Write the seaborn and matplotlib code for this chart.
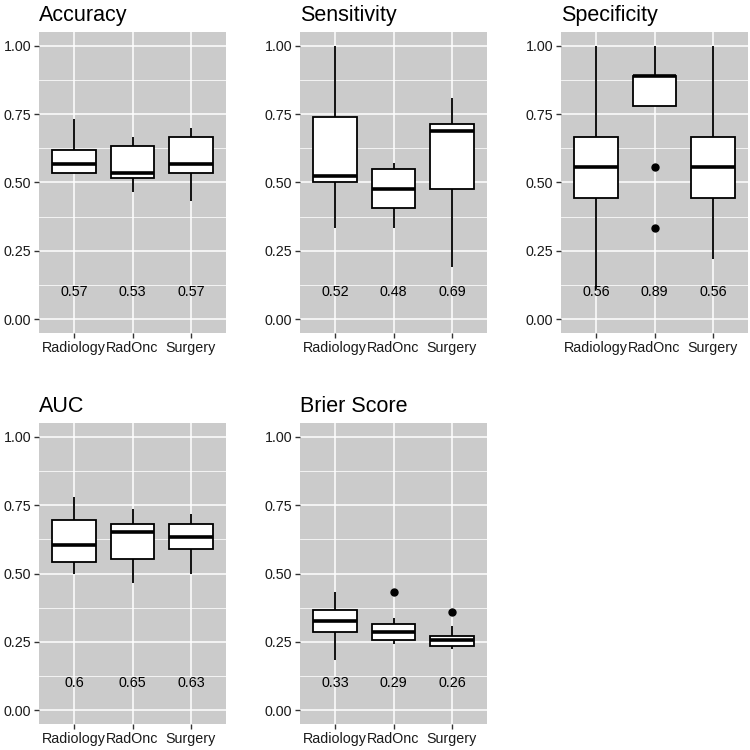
import numpy as np
import pandas as pd
import matplotlib
matplotlib.use("Agg")
import matplotlib.pyplot as plt
import seaborn as sns

groups = ["Radiology", "RadOnc", "Surgery"]
metrics = ["Accuracy", "Sensitivity", "Specificity", "AUC", "Brier Score"]

accuracy = [
    [0.533, 0.533, 0.533, 0.567, 0.567, 0.600, 0.617, 0.667, 0.733],
    [0.467, 0.500, 0.515, 0.533, 0.533, 0.600, 0.633, 0.650, 0.667],
    [0.433, 0.500, 0.533, 0.550, 0.567, 0.633, 0.667, 0.683, 0.700],
]
sensitivity = [
    [0.333, 0.450, 0.500, 0.510, 0.524, 0.667, 0.738, 0.850, 1.000],
    [0.333, 0.381, 0.405, 0.452, 0.476, 0.524, 0.548, 0.560, 0.571],
    [0.190, 0.381, 0.476, 0.600, 0.690, 0.700, 0.714, 0.762, 0.810],
]
specificity = [
    [0.111, 0.333, 0.444, 0.500, 0.556, 0.600, 0.667, 0.778, 1.000],
    [0.333, 0.556, 0.778, 0.778, 0.889, 0.889, 0.889, 1.000, 1.000],
    [0.222, 0.333, 0.444, 0.500, 0.556, 0.600, 0.667, 0.778, 1.000],
]
auc = [
    [0.500, 0.520, 0.541, 0.580, 0.604, 0.650, 0.695, 0.740, 0.779],
    [0.464, 0.510, 0.552, 0.620, 0.650, 0.670, 0.680, 0.710, 0.737],
    [0.498, 0.560, 0.589, 0.610, 0.634, 0.660, 0.682, 0.700, 0.719],
]
brier = [
    [0.185, 0.250, 0.285, 0.310, 0.328, 0.350, 0.367, 0.400, 0.434],
    [0.244, 0.256, 0.256, 0.288, 0.288, 0.316, 0.316, 0.337, 0.434],
    [0.224, 0.234, 0.234, 0.258, 0.258, 0.270, 0.270, 0.309, 0.358],
]
metric_data = [accuracy, sensitivity, specificity, auc, brier]

y_ticks = [0.00, 0.25, 0.50, 0.75, 1.00]
y_tick_labels = ["0.00", "0.25", "0.50", "0.75", "1.00"]
y_minor = [0.125, 0.375, 0.625, 0.875]

plt.rcParams["font.family"] = ["Liberation Sans", "DejaVu Sans"]

fig = plt.figure(figsize=(7.5, 7.5), dpi=100)
W, H = 750.0, 750.0
col_x = [39, 300, 561]
row_y = [(32, 333), (423, 724)]
pw = 187

for i, (name, data) in enumerate(zip(metrics, metric_data)):
    r, c = divmod(i, 3)
    top, bot = row_y[r]
    ax = fig.add_axes([col_x[c] / W, 1 - bot / H, pw / W, (bot - top) / H])
    rows = []
    for g, vals in zip(groups, data):
        for v in vals:
            rows.append({"group": g, "value": v})
    df = pd.DataFrame(rows)
    ax.set_facecolor("#CBCBCB")
    ax.set_axisbelow(True)
    sns.boxplot(
        data=df, x="group", y="value", order=groups, ax=ax,
        width=0.75, color="white", linecolor="black", linewidth=1.3,
        fliersize=5, showcaps=False, saturation=1,
        flierprops=dict(marker="o", markerfacecolor="black", markeredgecolor="black"),
        medianprops=dict(linewidth=2.6, color="black"),
    )
    for j, (g, vals) in enumerate(zip(groups, data)):
        m = float(np.median(vals))
        ax.text(j, 0.1, f"{round(m, 2):g}", ha="center", va="center",
                fontsize=10.3, color="black", zorder=5)
    ax.set_xlim(-0.6, 2.6)
    ax.set_ylim(-0.05, 1.05)
    ax.set_yticks(y_ticks)
    ax.set_yticklabels(y_tick_labels)
    ax.set_yticks(y_minor, minor=True)
    ax.grid(which="major", color="white", linewidth=1.1)
    ax.grid(which="minor", axis="y", color="white", linewidth=0.55)
    ax.tick_params(which="minor", length=0)
    ax.tick_params(which="major", length=3.5, width=1.0, color="#333333",
                   labelsize=10.3, labelcolor="#1a1a1a", pad=2)
    for s in ax.spines.values():
        s.set_visible(False)
    ax.set_xlabel("")
    ax.set_ylabel("")
    ax.set_title(name, loc="left", fontsize=15.5, pad=8, color="black")

fig.savefig("out.png", dpi=100)
